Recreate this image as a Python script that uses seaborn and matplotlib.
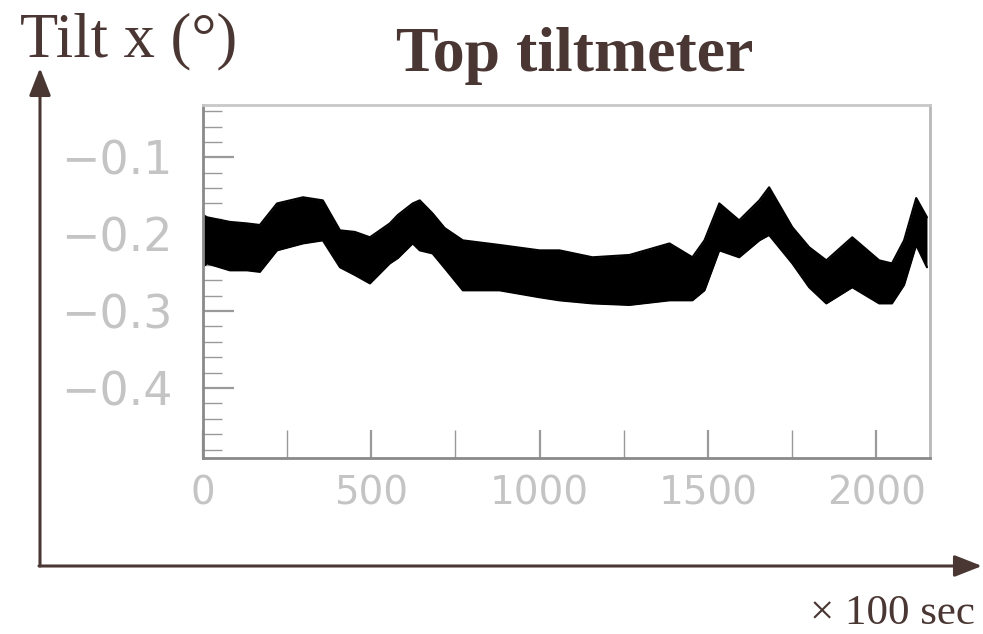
import numpy as np
import pandas as pd
import matplotlib
matplotlib.use("Agg")
import matplotlib.pyplot as plt
import seaborn as sns
from matplotlib.ticker import MultipleLocator

# ---- data (time in units of 100 s, tilt in degrees) ----
time_x = [0, 12, 80, 131, 169, 220, 297, 356, 407, 451, 496, 555, 579, 623, 644,
          682, 718, 772, 881, 1000, 1059, 1157, 1267, 1386, 1454, 1490, 1534, 1593,
          1653, 1682, 1751, 1801, 1852, 1929, 2009, 2047, 2083, 2119, 2151]
tilt_upper = [-0.175, -0.178, -0.184, -0.186, -0.188, -0.160, -0.152, -0.156, -0.195,
              -0.197, -0.204, -0.186, -0.175, -0.160, -0.156, -0.173, -0.192, -0.208,
              -0.214, -0.221, -0.221, -0.230, -0.227, -0.212, -0.230, -0.208, -0.160,
              -0.182, -0.156, -0.139, -0.191, -0.217, -0.234, -0.204, -0.234, -0.238,
              -0.208, -0.153, -0.178]
tilt_lower = [-0.242, -0.238, -0.247, -0.247, -0.249, -0.221, -0.212, -0.208, -0.243,
              -0.253, -0.264, -0.238, -0.231, -0.212, -0.221, -0.225, -0.244, -0.273,
              -0.273, -0.282, -0.286, -0.290, -0.292, -0.286, -0.286, -0.273, -0.221,
              -0.230, -0.208, -0.201, -0.238, -0.269, -0.290, -0.269, -0.290, -0.290,
              -0.266, -0.214, -0.243]
x_ticks = [0, 500, 1000, 1500, 2000]
y_ticks = [-0.1, -0.2, -0.3, -0.4]
y_tick_labels = ["\u22120.1", "\u22120.2", "\u22120.3", "\u22120.4"]

df = pd.DataFrame({"t": time_x, "upper": tilt_upper, "lower": tilt_lower})

sns.set_theme(style="white")
plt.rcParams["font.family"] = ["DejaVu Sans"]

W, H = 983, 634
fig = plt.figure(figsize=(W / 100, H / 100), dpi=100)

brown = "#4a3733"
tick_gray = "#c4c4c4"

# ---- inner plot ----
ax = fig.add_axes([203 / W, 1 - 458 / H, (930 - 203) / W, (458 - 105) / H])
ax.fill_between(df["t"], df["lower"], df["upper"], color="black", linewidth=0)
sns.lineplot(data=df, x="t", y="upper", ax=ax, color="black", linewidth=1.5)
sns.lineplot(data=df, x="t", y="lower", ax=ax, color="black", linewidth=1.5)

ax.set_xlim(0, 2160)
ax.set_ylim(-0.491, -0.032)
ax.set_xlabel("")
ax.set_ylabel("")
ax.set_xticks(x_ticks)
ax.set_xticklabels([str(v) for v in x_ticks])
ax.set_yticks(y_ticks)
ax.set_yticklabels(y_tick_labels)
ax.xaxis.set_minor_locator(MultipleLocator(250))
ax.yaxis.set_minor_locator(MultipleLocator(0.02))

ax.tick_params(axis="both", which="both", direction="in", color="#9a9a9a")
ax.tick_params(axis="y", which="major", length=22, width=1.6, pad=22,
               labelsize=33, labelcolor=tick_gray, left=True)
ax.tick_params(axis="y", which="minor", length=14, width=1.0, left=True)
ax.tick_params(axis="x", which="major", length=20, width=1.6, pad=12,
               labelsize=28, labelcolor=tick_gray, bottom=True)
ax.tick_params(axis="x", which="minor", length=20, width=1.0, bottom=True)

for side, col, lw in [("left", "#8a8a8a", 2.0), ("bottom", "#8a8a8a", 2.0),
                      ("top", "#c8c8c8", 2.0), ("right", "#b8b8b8", 2.0)]:
    ax.spines[side].set_visible(True)
    ax.spines[side].set_color(col)
    ax.spines[side].set_linewidth(lw)
ax.set_facecolor("white")

# ---- outer annotation layer ----
ov = fig.add_axes([0, 0, 1, 1], facecolor="none")
ov.set_xlim(0, W)
ov.set_ylim(H, 0)
ov.axis("off")
arrow = dict(arrowstyle="-|>,head_length=1.4,head_width=0.55", color=brown,
             linewidth=2.2, shrinkA=0, shrinkB=0)
ov.annotate("", xy=(40, 68), xytext=(40, 566), arrowprops=arrow,
            annotation_clip=False)
ov.annotate("", xy=(982, 566), xytext=(39, 566), arrowprops=arrow,
            annotation_clip=False)

ov.text(20, 56, "Tilt x (\u00b0)", fontsize=45, color=brown,
        family="Liberation Serif", ha="left", va="baseline")
ov.text(575, 71, "Top tiltmeter", fontsize=46, color=brown, fontweight="bold",
        family="Liberation Serif", ha="center", va="baseline")
ov.text(975, 624, "\u00d7 100 sec", fontsize=31, color=brown,
        family="Liberation Serif", ha="right", va="baseline")

fig.savefig("out.png", dpi=100, facecolor="white")
